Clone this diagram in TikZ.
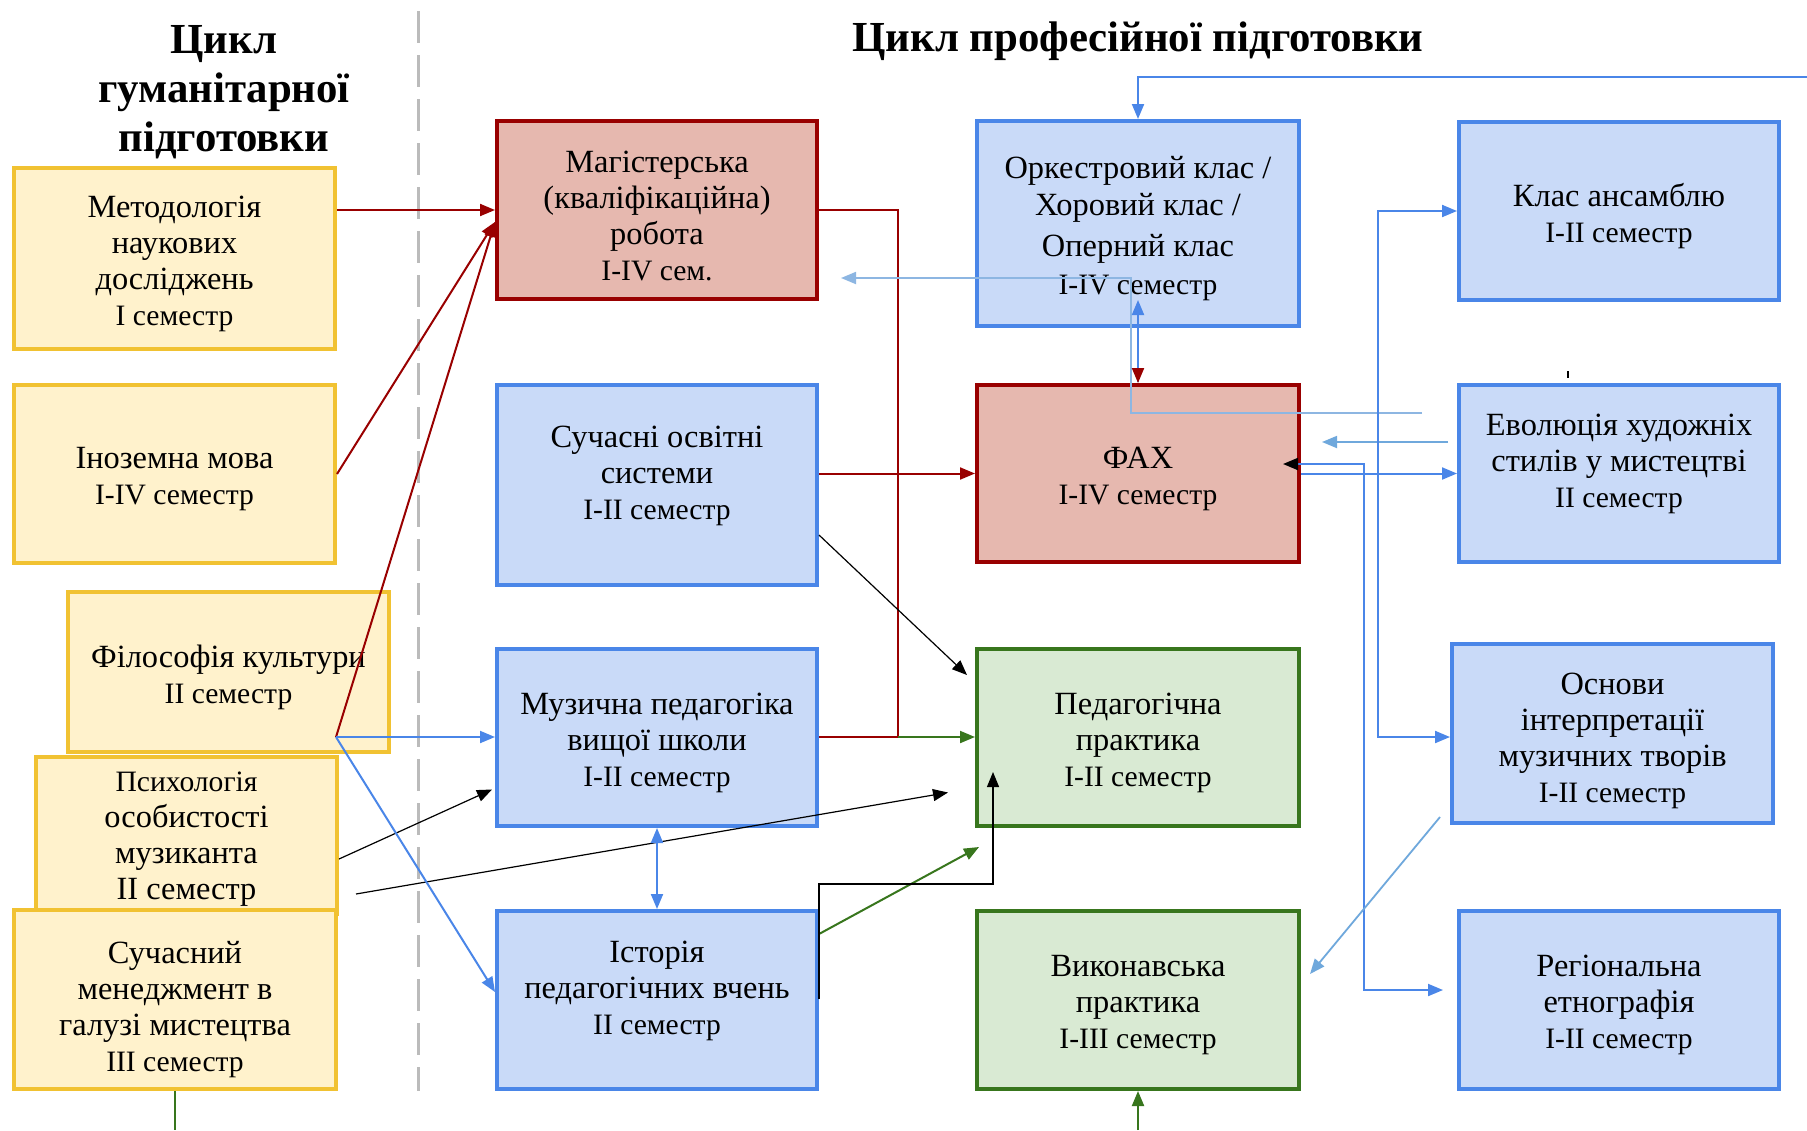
\documentclass[tikz,border=0pt]{standalone}
\usepackage{fontspec}
\setmainfont{Liberation Serif}
\usetikzlibrary{arrows.meta,calc}
\definecolor{yf}{HTML}{FFF2CC}
\definecolor{yd}{HTML}{F1C232}
\definecolor{rf}{HTML}{E6B8AF}
\definecolor{rd}{HTML}{990000}
\definecolor{bf}{HTML}{C9DAF8}
\definecolor{bd}{HTML}{4A86E8}
\definecolor{gf}{HTML}{D9EAD3}
\definecolor{gd}{HTML}{38761D}
\definecolor{lb}{HTML}{6FA8DC}
\definecolor{lbb}{HTML}{8DB6E2}
\definecolor{dg}{HTML}{BBBBBB}
\newcommand\smx[1]{{\fontsize{14.8pt}{18pt}\selectfont #1}}
\newcommand\bx[8][-2.5pt]{%
  \pgfmathsetmacro\mybw{(#5-#3)*0.5}%
  \pgfmathsetmacro\mybh{(#6-#4)*0.5}%
  \node[boxbase,#7,minimum width=\mybw pt,minimum height=\mybh pt] (#2) at ({(#3+#5)/2},{(#4+#6)/2}) {};
  \node[boxtxt] (#2t) at ([yshift=#1]#2.center) {#8};}
\begin{document}
\begin{tikzpicture}[x=0.5pt,y=-0.5pt,
  boxbase/.style={rectangle,inner sep=0pt,line width=2pt},
  boxtxt/.style={align=center,inner sep=0pt,font=\fontsize{16.2pt}{18pt}\selectfont},
  yel/.style={draw=yd,fill=yf},
  red/.style={draw=rd,fill=rf},
  blu/.style={draw=bd,fill=bf},
  grn/.style={draw=gd,fill=gf},
  ttl/.style={align=center,font=\fontsize{21.4pt}{24.6pt}\selectfont\bfseries},
  >={Triangle[length=7.5pt,width=6pt]},
  redln/.style={draw=rd,line width=1pt},
  bluln/.style={draw=bd,line width=1pt},
  lblln/.style={draw=lbb,line width=0.9pt},
  lblln2/.style={draw=lb,line width=0.9pt},
  blkln/.style={draw=black,line width=0.6pt},
  grnln/.style={draw=gd,line width=1pt}]
\useasboundingbox[fill=white] (0,0) rectangle (1807,1130);
% divider
\draw[dg,line width=1.5pt,dash pattern=on 16pt off 6pt] (418,11) -- (418,1091);
% titles
\node[ttl] (t1) at (224,92) {Цикл\\гуманітарної\\підготовки};
\node[ttl] (t2) at (1138,41) {Цикл професійної підготовки};
% boxes
\bx{met}{14}{168}{335}{349}{yel}{Методологія\\наукових\\досліджень\\\smx{I семестр}}
\bx{ino}{14}{385}{335}{563}{yel}{Іноземна мова\\\smx{I-IV семестр}}
\bx{fil}{68}{592}{389}{752}{yel}{Філософія культури\\\smx{II семестр}}
\bx[-2pt]{psy}{36}{757}{337}{914}{yel}{\fontsize{14.8pt}{17.3pt}\selectfont Психологія\\особистості\\музиканта\\II семестр}
\bx[-4.8pt]{men}{14}{910}{336}{1089}{yel}{Сучасний\\менеджмент в\\галузі мистецтва\\\smx{III семестр}}
\bx[-3pt]{mag}{497}{121}{817}{299}{red}{Магістерська\\(кваліфікаційна)\\робота\\\smx{I-IV сем.}}
\bx[4.5pt]{sos}{497}{385}{817}{585}{blu}{Сучасні освітні\\системи\\\smx{I-II семестр}}
\bx{mus}{497}{649}{817}{826}{blu}{Музична педагогіка\\вищої школи\\\smx{I-II семестр}}
\bx[4.4pt]{ist}{497}{911}{817}{1089}{blu}{Історія\\педагогічних вчень\\\smx{II семестр}}
\bx{ork}{977}{121}{1299}{326}{blu}{Оркестровий клас /\\[0.5pt]Хоровий клас /\\[2.7pt]Оперний клас\\[1pt]\smx{I-IV семестр}}
\bx{fah}{977}{385}{1299}{562}{red}{ФАХ\\\smx{I-IV семестр}}
\bx{ped}{977}{649}{1299}{826}{grn}{Педагогічна\\практика\\\smx{I-II семестр}}
\bx{vyk}{977}{911}{1299}{1089}{grn}{Виконавська\\практика\\\smx{I-III семестр}}
\bx{ans}{1459}{122}{1779}{300}{blu}{Клас ансамблю\\\smx{I-II семестр}}
\bx[4.7pt]{evo}{1459}{385}{1779}{562}{blu}{Еволюція художніх\\стилів у мистецтві\\\smx{II семестр}}
\bx[-3.7pt]{osn}{1452}{644}{1773}{823}{blu}{Основи\\інтерпретації\\музичних творів\\\smx{I-II семестр}}
\bx{reg}{1459}{911}{1779}{1089}{blu}{Регіональна\\етнографія\\\smx{I-II семестр}}
% free coordinates
\coordinate (magin) at ($(mag.west)+(0,12)$);
\coordinate (filpt) at (336,737);
\coordinate (rj1) at (898,210);
\coordinate (rj2) at (898,737);
\coordinate (psyout) at (356,894);
\coordinate (bk1) at (993,884);
\coordinate (topr) at (1807,77);
\coordinate (lb1) at (1422,413);
\coordinate (lb2) at (1131,413);
\coordinate (lb3) at (1131,278);
\coordinate (lb4) at (841,278);
\coordinate (fj) at (1364,464);
\coordinate (aj) at (1378,211);
\coordinate (osnout) at (1440,817);
% red connectors
\draw[redln,->] (met.east |- mag.west) -- (mag.west);
\draw[redln,->] (ino.east) -- (magin);
\draw[redln,->] (filpt) -- (magin);
\draw[redln] (mag.east) -- (rj1) -- (rj2) -- (mus.east |- rj2);
\draw[redln,->] (sos.east |- fah.west) -- (fah.west);
% green connectors
\draw[grnln,->] (rj2) -- (ped.west |- rj2);
\draw[grnln,->] (ist.east |- 0,934) -- ($(ped.south west)+(4,19)$);
\draw[grnln] (men.south) -- (men.south |- 0,1130);
\draw[grnln,->] (vyk.south |- 0,1130) -- (vyk.south);
% black connectors
\draw[blkln,->] (sos.east |- 0,535) -- ($(ped.north west)+(-8,28)$);
\draw[blkln,->] (psy.east |- 0,859) -- ($(mus.west)+(-3,52)$);
\draw[blkln,->] (psyout) -- ($(ped.west)+(-27,55)$);
\draw[blkln,->] (ist.east |- 0,999) -- (ist.east |- bk1) -- (bk1) -- (bk1 |- 0,772);
% blue connectors
\draw[bluln,->] (filpt) -- (mus.west |- filpt);
\draw[bluln,->] (filpt) -- (ist.west |- 0,992);
\draw[bluln,<->] (mus.south) -- (ist.north);
\draw[bluln,->] (topr) -- (ork.north |- topr) -- (ork.north);
\draw[lblln,->] (lb1) -- (lb2) -- (lb3) -- (lb4);
\draw[bluln,->] (ork.south |- 0,382) -- (ork.south |- 0,300);
\draw[redln,->] (fah.north |- 0,368) -- (fah.north);
\draw[lblln2,->] (evo.west |- 0,442) ++(-9,0) -- (1322,442);
\draw[bluln,{Triangle[length=7.5pt,width=6pt,black]}-{Triangle[length=7.5pt,width=6pt]}]
  (1283,464) -- (fj) -- (fj |- 0,990) -- (1443,990);
\draw[bluln,->] (fah.east) -- (evo.west);
\draw[bluln,<->] (ans.west) -- (aj) -- (aj |- 0,737) -- (osn.west |- 0,737);
\draw[lblln2,->] (osnout) -- ($(vyk.east)+(9,-26)$);
% stray tick
\draw[black,line width=0.8pt] (1568,371) -- (1568,378);
\end{tikzpicture}
\end{document}
